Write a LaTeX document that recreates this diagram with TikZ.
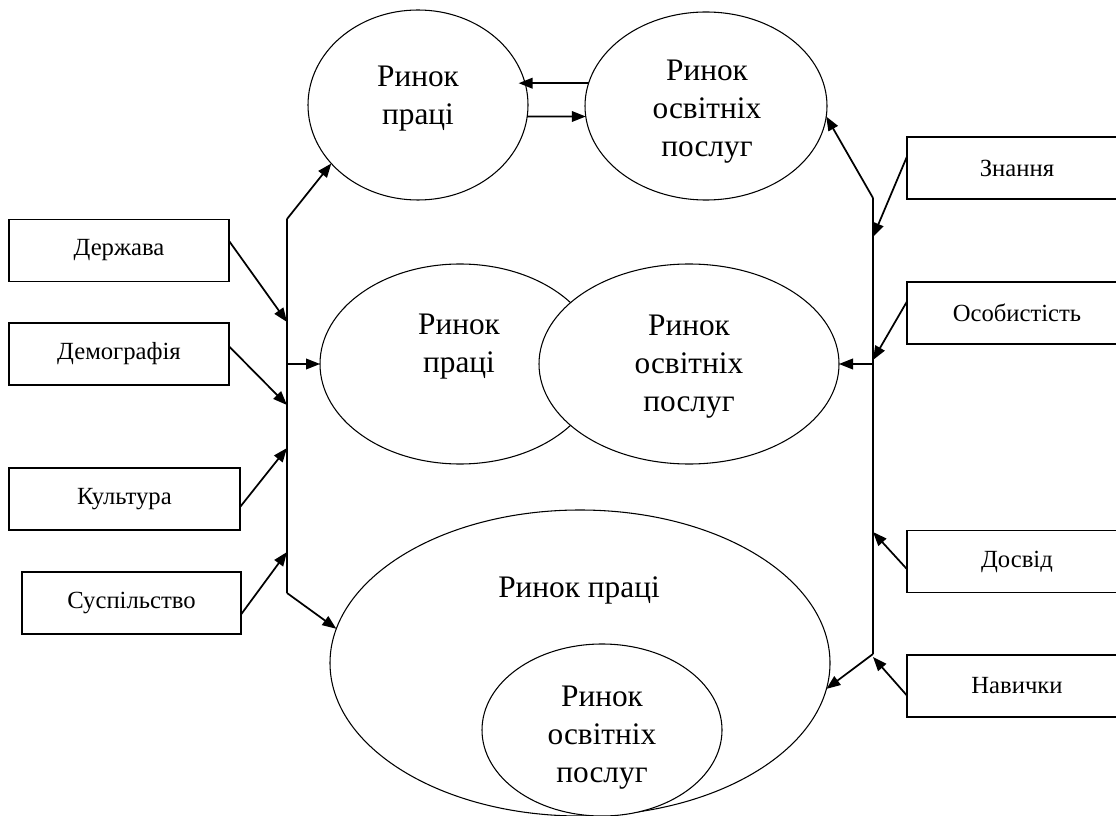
\documentclass[tikz,border=0pt]{standalone}
\usepackage{fontspec}
\setmainfont{Liberation Serif}
\usetikzlibrary{shapes.geometric,arrows.meta,calc}
\begin{document}
\begin{tikzpicture}[x=0.75pt,y=-0.75pt,
  ell/.style={draw, ellipse, line width=0.8pt, fill=white, inner sep=0pt, outer sep=0pt},
  box/.style={draw, rectangle, line width=1.05pt, inner sep=0pt, outer sep=0pt, minimum height=46.5pt, font=\fontsize{18.5}{22}\selectfont},
  etext/.style={align=center, inner sep=0pt, font=\fontsize{23.5}{28.5}\selectfont},
  arr/.style={-{Triangle[length=10.5pt,width=8pt]}, line width=1.3pt},
  ln/.style={line width=1.3pt, line join=miter}]
\useasboundingbox (0,0) rectangle (1116,816);
\clip (0,0) rectangle (1116,816);
% ellipses
\node[ell, minimum width=165pt, minimum height=142.5pt] (e1) at (418,105) {};
\node[ell, minimum width=181.5pt, minimum height=141pt] (e2) at (706,106) {};
\node[ell, minimum width=210pt, minimum height=150pt] (e3) at (460,364) {};
\node[ell, minimum width=225pt, minimum height=150pt] (e4) at (689,364) {};
\node[ell, minimum width=375pt, minimum height=229.5pt] (e5) at (580,663) {};
\node[ell, minimum width=180pt, minimum height=129pt] (e6) at (602,730) {};
% ellipse texts
\node[etext] (t1) at (418,99) {Ринок\\праці};
\node[etext] (t2) at (707,112) {Ринок\\освітніх\\послуг};
\node[etext] (t3) at (459,347) {Ринок\\праці};
\node[etext] (t4) at (689,367) {Ринок\\освітніх\\послуг};
\node[etext] (t5) at (579,590) {Ринок праці};
\node[etext] (t6) at (602,738) {Ринок\\освітніх\\послуг};
% left boxes
\node[box, minimum width=165pt] (b1) at (119,250.5) {Держава};
\node[box, minimum width=165pt] (b2) at (119,354) {Демографія};
\node[box, minimum width=173.25pt] (b3) at (124.5,499) {Культура};
\node[box, minimum width=164.25pt] (b4) at (131.5,603) {Суспільство};
% right boxes (cut by the right edge)
\node[box, minimum width=165pt] (r1) at (1017,168) {Знання};
\node[box, minimum width=165pt] (r2) at (1017,313) {Особистість};
\node[box, minimum width=165pt] (r3) at (1017,561.5) {Досвід};
\node[box, minimum width=165pt] (r4) at (1017,686) {Навички};
% junction coordinates
\coordinate (jl1) at (287,219);
\coordinate (jl2) at (287,593);
\coordinate (jlm) at (287,364);
\coordinate (tl1) at (287,322);
\coordinate (tl2) at (287,405);
\coordinate (tl3) at (287,448);
\coordinate (tl4) at (287,552);
\coordinate (jr1) at (873,198);
\coordinate (jr2) at (873,654);
\coordinate (jrm) at (873,364);
\coordinate (tr1) at (873,237);
\coordinate (tr2) at (873,360);
\coordinate (tr3) at (873,532);
\coordinate (tr4) at (873,657);
% vertical lines
\draw[ln] (jl1) -- (jl2);
\draw[ln] (jr1) -- (jr2);
% top ellipses exchange
\draw[arr] (e2.169.7) -- ++(-70,0);
\draw[arr] (e1.-6.3) -- (e2.185.2);
% left side arrows
\draw[arr] (jl1) -- (e1.214);
\draw[arr] (jl2) -- (e5.172.7);
\draw[arr] (jlm) -- (e3.west);
\draw[arr] (b1.5.5) -- (tl1);
\draw[arr] (b2.4.7) -- (tl2);
\draw[arr] (b3.-4.5) -- (tl3);
\draw[arr] (b4.-6.3) -- (tl4);
% right side arrows
\draw[arr] (jr1) -- (e2.-5.6);
\draw[arr] (jrm) -- (e4.east);
\draw[arr] (jr2) -- (e5.-6.9);
\draw[arr] (r1.174.8) -- (tr1);
\draw[arr] (r2.174.8) -- (tr2);
\draw[arr] (r3.184.9) -- (tr3);
\draw[arr] (r4.185.2) -- (tr4);
\end{tikzpicture}
\end{document}
